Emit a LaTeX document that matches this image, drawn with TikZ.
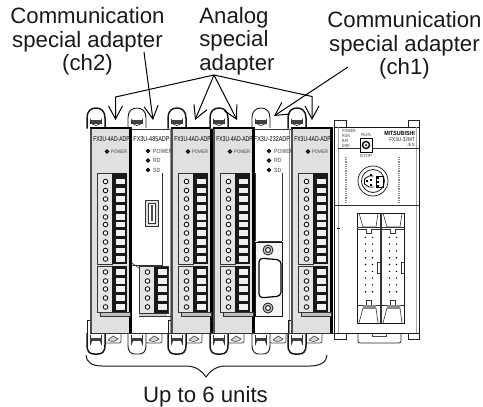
\documentclass[tikz,border=0pt]{standalone}
\usepackage{fontspec}
\setmainfont{Liberation Sans}
\usetikzlibrary{arrows.meta}
\tikzset{
  lbl/.style={font=\fontsize{22.2}{23.4}\selectfont,align=center,anchor=base,inner sep=0pt,text=black!90},
  callout/.style={line width=1pt,black,-{Straight Barb[length=13pt,width=14pt,line width=1pt]}},
  plainline/.style={line width=1pt,black},
  tiny/.style={font=\fontsize{5}{5}\selectfont,inner sep=0pt,text=black!75},
  thinln/.style={line width=.6pt,black!80},
}
\newcommand{\sq}[2]{\scalebox{#1}[1]{#2}}
% x, ytop, ybot : terminal block, list of screw rows
\newcommand{\termblock}[4]{%
  \fill[black!10] (#1,#2) rectangle (#1+15,#3);
  \draw[thinln,line width=.9pt] (#1,#2) rectangle (#1+15,#3);
  \fill[black!90] (#1+15,#2) rectangle (#1+30,#3);
  \foreach \yy in {#4}{%
    \draw[line width=.9pt,black!90,fill=white] (#1+8.5,\yy) circle (2.3);
    \fill[black!6] (#1+18.5,\yy-2.6) rectangle (#1+28,\yy+2.6);
  }}
\newcommand{\toploop}[2]{%
  \draw[line width=#2,black!90,fill=white,line join=round] (#1,128.5) -- (#1,118) .. controls (#1,111) and (#1+4,108) .. (#1+9,108) .. controls (#1+14,108) and (#1+18,111) .. (#1+18,118) -- (#1+18,128.5);
  \draw[line width=.7pt,black!80] (#1+3.5,124) -- (#1+3.5,120) arc[start angle=180,end angle=0,radius=5.5] -- (#1+14.5,124);
  \fill[black!75] (#1+4,119.5) rectangle (#1+14,123.5);
}
\newcommand{\botloop}[2]{%
  \draw[line width=.7pt,black!75,fill=white,rounded corners=2pt] (#1+17,333) -- (#1+17,343) -- (#1+34,343) -- (#1+34,333);
  \draw[line width=.7pt,black!70,fill=black!15] (#1+21,340) -- (#1+26,336) -- (#1+31,339) .. controls (#1+28,342) and (#1+24,342) .. (#1+21,340);
  \draw[line width=#2,black!90,fill=white,line join=round] (#1,333) -- (#1,345) .. controls (#1,352) and (#1+3,354) .. (#1+7,354) -- (#1+11,354) .. controls (#1+15,354) and (#1+18,352) .. (#1+18,345) -- (#1+18,333);
  \draw[line width=.7pt,black!80] (#1+3.5,335) -- (#1+3.5,344) arc[start angle=180,end angle=360,radius=5.5] -- (#1+14.5,335);
  \fill[black!75] (#1+4,337.5) rectangle (#1+14,341);
}
% module drawn for left edge = 0
\newcommand{\analogmod}[1]{%
\begin{scope}[xshift=#1pt]
  \toploop{-3}{1.5pt}
  \botloop{-3}{1.5pt}
  \fill[black!12] (0,128) rectangle (42,333);
  \draw[line width=1pt,black!90] (-3,333) -- (-3,320) -- (1,320);
  \fill[black!70] (0,128) rectangle (2,333);
  \fill[black] (39,128) rectangle (42,333);
  \fill[black] (0,127) rectangle (42,129);
  \node[tiny,font=\fontsize{7}{7}\selectfont,text=black] at (21.5,139) {\sq{.72}{FX3U-4AD-ADP}};
  \draw[line width=1.4pt,black,fill=white] (17,151.5) circle (1.5);
  \node[tiny,anchor=west] at (21,152) {\sq{.85}{POWER}};
  \fill[black!25] (10,312) rectangle (40,316);
  \draw[thinln] (10,312) rectangle (40,316);
  \termblock{7}{173}{264}{181.5,190.5,199,208,217,224.5,233,242,250.5,259}
  \termblock{7}{266}{312}{272,281,289,298,307}
\end{scope}}
\newcommand{\whitetxt}[3]{%
  \node[tiny,font=\fontsize{7}{7}\selectfont,text=black] at (#1,139) {\sq{.78}{#3}};
  \foreach \yy/\tt in {151/POWER,160.5/RD,170/SD}{%
    \draw[line width=1.4pt,black,fill=white] (#2,\yy) circle (1.5);
    \node[tiny,anchor=west,font=\fontsize{6}{6}\selectfont] at (#2+5,\yy) {\sq{.85}{\tt}};
  }}
\begin{document}
\begin{tikzpicture}[x=1pt,y=-1pt]
\useasboundingbox (0,0) rectangle (483,407);
% labels
\node[lbl] (ch2txt) at (87.5,70.5) {Communication\\special adapter\\(ch2)};
\node[lbl,align=left] (antxt) at (237,70) {Analog\\special\\adapter};
\node[lbl] (ch1txt) at (404.5,74.5) {Communication\\special adapter\\(ch1)};
\node[lbl] (units) at (205.5,402) {Up to 6 units};
% main unit
\draw[line width=.8pt,black!85,fill=white] (334,120) rectangle (346,127);
\draw[line width=.8pt,black!85,fill=white] (408,120) rectangle (419,127);
\draw[line width=.8pt,black!85,fill=white] (334,333) rectangle (346,339);
\draw[line width=.8pt,black!85,fill=white] (408,333) rectangle (419,339);
\draw[line width=.8pt,black!85,fill=white,rounded corners=2pt] (358,333) -- (358,343) -- (401,343) -- (401,333);
\draw[line width=.6pt,black!70] (372,333) -- (372,336) -- (386,336) -- (386,333);
\draw[line width=.9pt,black!90,fill=white] (334,127) rectangle (419,333);
\draw[line width=.8pt,black!35] (338,127) -- (338,333);
\draw[line width=.8pt,black!35] (416.5,127) -- (416.5,333);
\draw[thinln] (338,148) -- (360,148) (372,148) -- (419,148);
\draw[thinln] (334,205) -- (419,205);
\draw[line width=.8pt,black] (337,228) -- (340,228);
\foreach \yy/\tt in {131/POWER,136/RUN,141/BAT,146/ERR}{\node[tiny,anchor=west,font=\fontsize{4.5}{4.5}\selectfont] at (342,\yy) {\sq{.8}{\tt}};}
\node[tiny,font=\fontsize{4.5}{4.5}\selectfont] at (366,135) {RUN};
\node[tiny,font=\fontsize{4.5}{4.5}\selectfont] at (366,155.5) {STOP};
\draw[line width=1pt,black] (360.5,138) rectangle (372,152);
\draw[line width=1.3pt,black,fill=black!10] (366,145) circle (3.6);
\fill[black] (366,145) circle (1);
\node[tiny,anchor=east,font=\bfseries\fontsize{6}{6}\selectfont,text=black] at (415,133) {\sq{.88}{MITSUBISHI}};
\node[tiny,anchor=east,font=\fontsize{5.5}{5.5}\selectfont,text=black!85] at (415,139.5) {\sq{.85}{FX3U-32MT}};
\node[tiny,anchor=east,font=\fontsize{4.5}{4.5}\selectfont] at (415,144.5) {/ES};
\draw[line width=1.6pt,black!45,dash pattern=on 1pt off .8pt] (346,157) -- (346,203);
\draw[line width=1.6pt,black!45,dash pattern=on 1pt off .8pt] (399,157) -- (399,203);
\draw[line width=.8pt,black!85] (373,181) circle (15);
\draw[line width=.8pt,black!85] (373,181) circle (11.5);
\draw[line width=.8pt,black] (373.5,176) -- (369,176) -- (364.5,179) -- (364.5,184) -- (369,187) -- (373.5,187);
\foreach \px/\py in {371/175,371/180,367/181,378/178,378/182,378/186,371/185}{\fill[black] (\px-1.2,\py-1.2) rectangle (\px+1.2,\py+1.2);}
\draw[line width=.8pt,black] (376,176) rectangle (383,187);
% IDC connectors
\draw[line width=.8pt,black!90,fill=white] (357,213) rectangle (404,323);
\draw[line width=.7pt,black!80] (380,213) -- (380,323) (381.8,213) -- (381.8,323);
\foreach \xx in {357,381}{%
  \begin{scope}[xshift=\xx pt]
  \draw[thinln] (2,213) -- (6,227) -- (19,227) -- (21,213);
  \draw[thinln] (0,227) -- (23,227) (0,229) -- (9,229) -- (9,233) -- (14,233) -- (14,229) -- (23,229);
  \draw[thinln] (2,323) -- (6,308) -- (19,308) -- (21,323);
  \fill[black!45] (6,305) rectangle (19,309);
  \draw[thinln] (0,305) -- (6,305) (19,305) -- (23,305) (9,305) -- (9,300) -- (14,300) -- (14,305);
  \foreach \rr in {0,...,8}{%
    \fill[black] (8.5,237.3+\rr*6.8) circle (.8);
    \fill[black] (15.5,237.3+\rr*6.8) circle (.8);}
  \draw[thinln] (23,262) -- (20,262) -- (20,273) -- (23,273);
  \end{scope}}
% white module 1
\toploop{128}{.9pt}
\botloop{128}{.9pt}
\fill[white] (132,128) rectangle (172,333);
\draw[thinln] (132,129) -- (172,129) (162,173) -- (162,265) -- (132,265);
\draw[thinln] (132,263) -- (139,268);
\draw[line width=.7pt,black!45] (170,128) -- (170,333);
\draw[thinln] (172,316) -- (139,316);
\whitetxt{151.5}{148}{FX3U-485ADP}
\draw[thinln,fill=black!12] (145,200) rectangle (158,226);
\draw[thinln,fill=white] (148,203) rectangle (155,223);
\fill[black!70] (150.5,205) rectangle (153,221);
\fill[black!20] (139,313) rectangle (167,316);
\termblock{139}{266}{313}{272,281,289,298,307}
\draw[thinln] (139,266) rectangle (168,313);
% white module 2
\toploop{252}{.9pt}
\botloop{252}{.9pt}
\fill[white] (254,128) rectangle (292,333);
\draw[thinln] (254,129) -- (292,129) (282,173) -- (282,241);
\draw[thinln] (255,173) -- (255,241);
\draw[line width=.7pt,black!45] (289,128) -- (289,333);
\whitetxt{272}{269}{FX3U-232ADP}
\draw[line width=1pt,black!90,fill=black!4] (255,242) rectangle (282,316);
\draw[line width=1.2pt,black!80] (258,241.5) -- (282,241.5);
\foreach \yy in {250,308}{%
  \draw[line width=.9pt,black!85,fill=black!15] (268,\yy) circle (5);
  \draw[line width=1.1pt,black!85,fill=white] (268,\yy) circle (2.5);}
\draw[line width=1.2pt,black,fill=white,rounded corners=4pt] (259,258) -- (281,260) -- (281,296) -- (259,298) -- cycle;
% analog modules
\analogmod{90}
\analogmod{171}
\analogmod{213}
\analogmod{291}
\draw[line width=.8pt,black!80] (90,333) -- (335,333);
% brace
\coordinate (bl) at (86,355);
\coordinate (br) at (327,355);
\coordinate (bm) at (206,377);
\draw[line width=1pt,black!90] (bl) .. controls (86,362) and (92,366) .. (102,366) -- (186,366) .. controls (196,366) and (202,371) .. (bm) .. controls (210,371) and (216,366) .. (226,366) -- (310,366) .. controls (320,366) and (327,362) .. (br);
% callouts
\coordinate (ap) at (214,75);
\coordinate (k1) at (115.5,97);
\coordinate (k4) at (312,96.5);
\coordinate (e1) at (115.5,120);
\coordinate (e2) at (195,120);
\coordinate (e3) at (237,120);
\coordinate (e4) at (312,120);
\coordinate (s2) at (144,52);
\coordinate (e5) at (153,120);
\coordinate (s1) at (348,67);
\coordinate (e6) at (274,116);
\draw[callout] (ap) -- (k1) -- (e1);
\draw[callout] (ap) -- (e2);
\draw[callout] (ap) -- (e3);
\draw[callout] (ap) -- (k4) -- (e4);
\draw[callout] (s2) -- (e5);
\draw[callout] (s1) -- (e6);
\end{tikzpicture}
\end{document}
